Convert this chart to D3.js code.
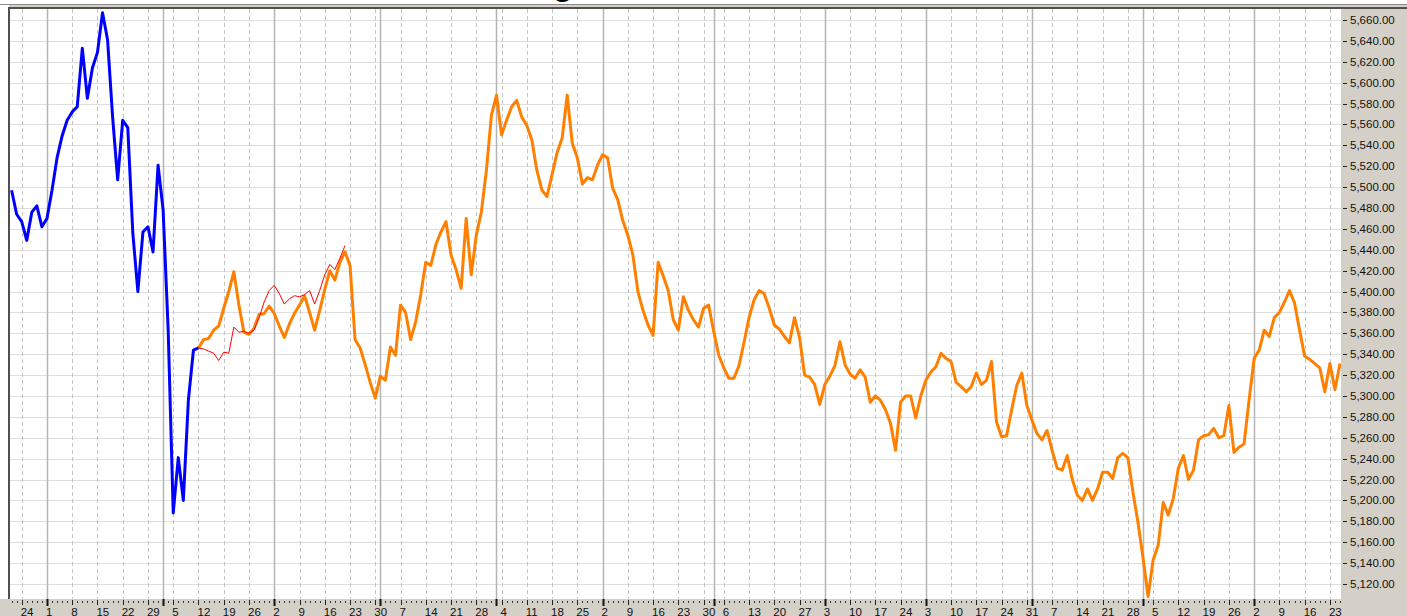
<!DOCTYPE html>
<meta charset="utf-8">
<style>
  body { margin: 0; background: #fff; }
  svg { display: block; }
  text { font-family: "Liberation Sans", Arial, sans-serif; }
</style>
<body>
<div id="chart"></div>
<script src="https://cdn.jsdelivr.net/npm/d3@7"></script>
<script>
// one bar per trading day, 20 Jun 2013 - 25 Jun 2014
const firstDay = new Date(2013, 5, 20),
      lastDay = new Date(2014, 5, 25);
const holidays = ["2014-01-01"];

// price axis labels
const yTicks = d3.range(5120, 5661, 20);

// history (blue), from the first bar
const history = [
  5497, 5474, 5467, 5449, 5476, 5482, 5462, 5470, 5497, 5528,
  5549, 5564, 5572, 5577, 5633, 5585, 5614, 5629, 5667, 5641,
  5567, 5507, 5564, 5557, 5456, 5400, 5457, 5462, 5438, 5521,
  5478, 5363, 5188, 5241, 5200, 5296, 5344, 5346
];

// projection (orange), starts on the last history bar
const forecastStart = 37;
const forecast = [
  5346, 5354, 5355, 5363, 5367, 5384, 5400, 5419, 5387, 5361,
  5359, 5365, 5378, 5379, 5386, 5379, 5367, 5356, 5369, 5379,
  5387, 5396, 5380, 5363, 5382, 5402, 5420, 5411, 5428, 5438,
  5425, 5354, 5346, 5330, 5313,
  5298, 5319, 5315, 5347, 5339, 5387, 5380, 5354, 5371, 5397,
  5428, 5425, 5445, 5457, 5467, 5435, 5421, 5403, 5470, 5416,
  5454, 5476, 5516, 5569, 5588, 5550, 5564, 5577, 5583, 5567,
  5559, 5545, 5516, 5497, 5491, 5512, 5533, 5547, 5588, 5542,
  5528, 5503, 5509, 5507, 5521, 5531, 5528, 5499, 5488, 5468,
  5454, 5435, 5400, 5382, 5368, 5358, 5428, 5415, 5401, 5373,
  5363, 5395, 5382, 5373, 5366, 5384, 5387, 5362, 5339, 5327,
  5317, 5317, 5329, 5351, 5375, 5392, 5401, 5398, 5384, 5368,
  5364, 5357, 5351, 5375, 5356, 5320, 5318, 5311, 5292, 5311,
  5319, 5329, 5352, 5330, 5321, 5317, 5325, 5318, 5294, 5300,
  5296, 5287, 5274, 5248, 5294, 5300, 5300, 5279, 5300, 5315,
  5323, 5328, 5341, 5336, 5333, 5313, 5309, 5304, 5309, 5322,
  5311, 5315, 5333, 5275, 5261, 5262, 5287, 5310, 5322, 5291,
  5277, 5264, 5258, 5267, 5248, 5231, 5229, 5243, 5220, 5205,
  5200, 5211, 5200, 5211, 5227, 5227, 5221, 5241, 5245, 5241,
  5208, 5179, 5145, 5108, 5143, 5157, 5198, 5186, 5202, 5231,
  5243, 5220, 5229, 5258, 5262, 5263, 5269, 5260, 5262, 5291,
  5246, 5251, 5254, 5296, 5336, 5344, 5363, 5357, 5375, 5380,
  5390, 5401, 5389, 5363, 5338, 5335, 5331, 5327, 5304, 5331,
  5306, 5331
];

// thin red series
const actualStart = 37;
const actual = [
  5346, 5345, 5343, 5341, 5334, 5342, 5341, 5366, 5361, 5362,
  5360, 5363, 5375, 5390, 5401, 5406, 5398, 5388, 5393, 5396,
  5395, 5397, 5401, 5388, 5401, 5416, 5426, 5421, 5432, 5444
];

const width = 1407, height = 616;
const plot = { left: 10, top: 9, right: 1341, bottom: 599 };

const iso = d3.timeFormat("%Y-%m-%d");
const dates = d3.timeDay.range(firstDay, d3.timeDay.offset(lastDay, 1))
  .filter(d => d.getDay() !== 0 && d.getDay() !== 6 && !holidays.includes(iso(d)));

const x = d3.scaleLinear().domain([0, dates.length - 1]).range([11.6, 1340]);
const y = d3.scaleLinear().domain([5120, 5660]).range([584, 20]);

const bars = d3.range(dates.length);
const weekStarts = bars.filter(i => i > 0 &&
  +d3.timeMonday.floor(dates[i]) !== +d3.timeMonday.floor(dates[i - 1]));
const monthStarts = bars.filter(i => i > 0 && dates[i].getMonth() !== dates[i - 1].getMonth());

const svg = d3.select("#chart").append("svg")
  .attr("width", width)
  .attr("height", height);

svg.append("rect").attr("width", width).attr("height", height).attr("fill", "#fff");

// title, almost all of it above the crop
svg.append("text")
  .attr("x", 563).attr("y", -5)
  .attr("text-anchor", "middle")
  .attr("font-size", 34).attr("font-weight", "bold")
  .attr("fill", "#000")
  .text("g");

// grey panels
svg.append("rect").attr("x", plot.right).attr("y", 4)
  .attr("width", width - plot.right).attr("height", height - 4).attr("fill", "#d4d0c8");
svg.append("rect").attr("x", 0).attr("y", plot.bottom)
  .attr("width", width).attr("height", height - plot.bottom).attr("fill", "#d4d0c8");
svg.append("rect").attr("x", 9).attr("y", 4)
  .attr("width", width - 9).attr("height", 4).attr("fill", "#d4d0c8");

svg.append("defs").append("clipPath").attr("id", "clip")
  .append("rect")
  .attr("x", plot.left).attr("y", plot.top)
  .attr("width", plot.right - plot.left).attr("height", plot.bottom - plot.top);

const g = svg.append("g").attr("clip-path", "url(#clip)");

// horizontal grid
g.selectAll(".hgrid")
  .data(d3.range(5100, 5700, 20))
  .enter().append("line")
  .attr("x1", plot.left).attr("x2", plot.right)
  .attr("y1", d => Math.round(y(d)) + 0.5).attr("y2", d => Math.round(y(d)) + 0.5)
  .attr("stroke", "#dedede");

// weekly dashed grid
g.selectAll(".wgrid")
  .data(weekStarts.filter(i => !monthStarts.includes(i)))
  .enter().append("line")
  .attr("x1", i => Math.round(x(i)) + 0.5).attr("x2", i => Math.round(x(i)) + 0.5)
  .attr("y1", plot.top).attr("y2", plot.bottom)
  .attr("stroke", "#c4c4c4")
  .attr("stroke-dasharray", "4,3");

// month grid
g.selectAll(".mgrid")
  .data(monthStarts)
  .enter().append("line")
  .attr("x1", i => Math.round(x(i)) + 0.5).attr("x2", i => Math.round(x(i)) + 0.5)
  .attr("y1", plot.top).attr("y2", plot.bottom)
  .attr("stroke", "#b4b4b4")
  .attr("stroke-width", 1.5);

const line = start => d3.line()
  .x((d, i) => x(start + i))
  .y(d => y(d));

g.append("path")
  .attr("d", line(forecastStart)(forecast))
  .attr("fill", "none")
  .attr("stroke", "#ff8000")
  .attr("stroke-width", 3)
  .attr("stroke-linejoin", "round");

g.append("path")
  .attr("d", line(0)(history))
  .attr("fill", "none")
  .attr("stroke", "#0000ff")
  .attr("stroke-width", 3)
  .attr("stroke-linejoin", "round");

g.append("path")
  .attr("d", line(actualStart)(actual))
  .attr("fill", "none")
  .attr("stroke", "#ff0000")
  .attr("stroke-width", 1);

// frame
svg.append("line").attr("x1", 0).attr("x2", width).attr("y1", 4.5).attr("y2", 4.5)
  .attr("stroke", "#8a8a8a");
svg.append("line").attr("x1", 9).attr("x2", width).attr("y1", 8).attr("y2", 8)
  .attr("stroke", "#505050").attr("stroke-width", 2);
svg.append("line").attr("x1", 9).attr("x2", 9).attr("y1", 7).attr("y2", plot.bottom)
  .attr("stroke", "#505050").attr("stroke-width", 2);

// price axis
const yAxis = svg.append("g");
yAxis.selectAll("line")
  .data(yTicks)
  .enter().append("line")
  .attr("x1", 1343).attr("x2", 1347)
  .attr("y1", d => Math.round(y(d)) + 0.5).attr("y2", d => Math.round(y(d)) + 0.5)
  .attr("stroke", "#222");
yAxis.selectAll("text")
  .data(yTicks)
  .enter().append("text")
  .attr("x", 1350)
  .attr("y", d => y(d))
  .attr("dy", "0.35em")
  .attr("font-size", 11.5)
  .attr("fill", "#111")
  .text(d3.format(",.2f"));

// date axis
const xAxis = svg.append("g");
xAxis.selectAll(".minor")
  .data(bars)
  .enter().append("line")
  .attr("x1", i => Math.round(x(i)) + 0.5).attr("x2", i => Math.round(x(i)) + 0.5)
  .attr("y1", 601).attr("y2", 603)
  .attr("stroke", "#333");
xAxis.selectAll(".week")
  .data(weekStarts)
  .enter().append("line")
  .attr("x1", i => Math.round(x(i)) + 0.5).attr("x2", i => Math.round(x(i)) + 0.5)
  .attr("y1", 600).attr("y2", 605)
  .attr("stroke", "#222");
xAxis.selectAll(".month")
  .data(monthStarts)
  .enter().append("line")
  .attr("x1", i => Math.round(x(i)) + 0.5).attr("x2", i => Math.round(x(i)) + 0.5)
  .attr("y1", 599).attr("y2", 606)
  .attr("stroke", "#111")
  .attr("stroke-width", 2);
xAxis.selectAll("text")
  .data(weekStarts)
  .enter().append("text")
  .attr("x", i => x(i) - 1)
  .attr("y", 615.5)
  .attr("font-size", 11.5)
  .attr("fill", "#111")
  .text(i => dates[i].getDate());
</script>
</body>
